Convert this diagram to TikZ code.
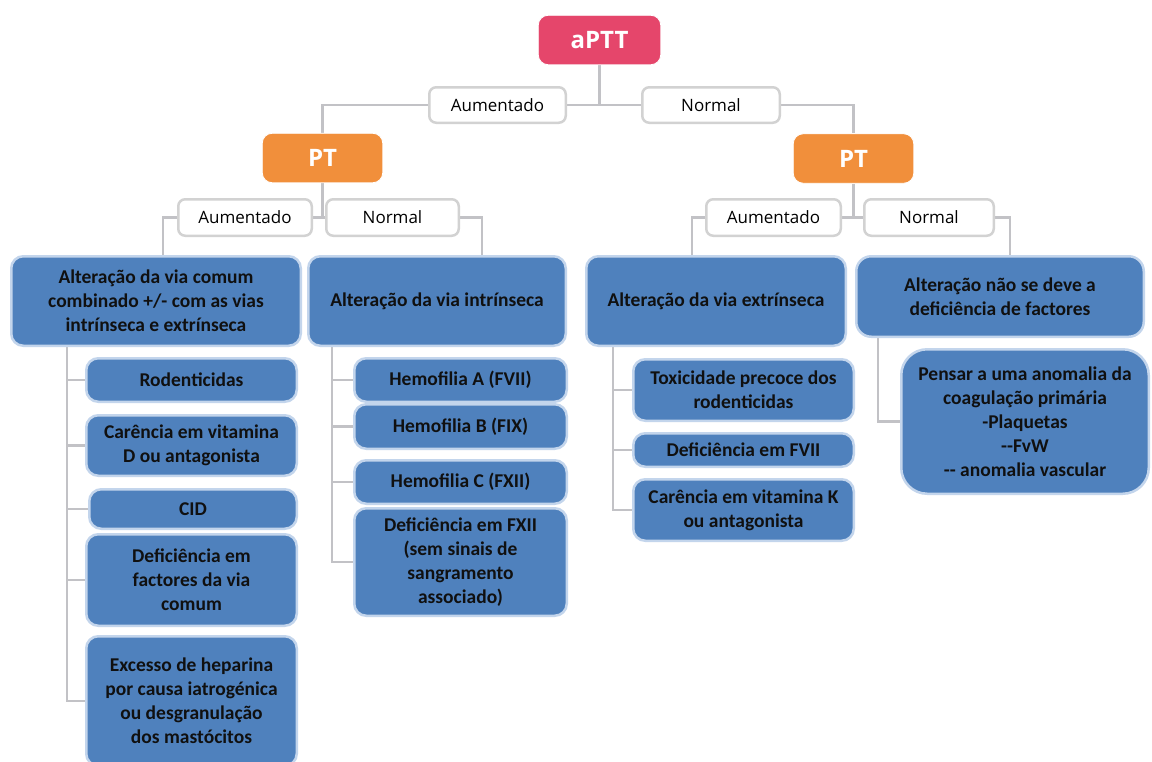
\documentclass[tikz,border=0pt]{standalone}
\usepackage{fontspec}
\newfontfamily\boxfont{Carlito}
\newfontfamily\labfont{Open Sans}
\definecolor{apttfill}{HTML}{E5466B}
\definecolor{ptfill}{HTML}{F18F3B}
\definecolor{bluefill}{HTML}{4F81BD}
\definecolor{blueedge}{HTML}{C3D5EC}
\definecolor{labedge}{HTML}{D2D2D2}
\definecolor{linkgrey}{HTML}{C2C2C6}
\definecolor{boxtext}{HTML}{101010}
\pgfdeclarelayer{bg}
\pgfsetlayers{bg,main}
\begin{document}
\begin{tikzpicture}[x=1pt,y=-1pt,
  sz/.style 2 args={minimum width=#1pt-2.5pt, minimum height=#2pt-2.5pt},
  titlebox/.style={draw=white, line width=0.8pt, rounded corners=10pt, inner sep=0pt,
    text=white, font=\labfont\bfseries\fontsize{24}{28}\selectfont},
  labbox/.style={draw=labedge, line width=2.5pt, fill=white, rounded corners=7pt, inner sep=0pt,
    text=black, font=\labfont\fontsize{17}{20}\selectfont},
  bluebox/.style={draw=blueedge, line width=2.5pt, fill=bluefill, rounded corners=12pt, inner sep=0pt,
    align=center, text=boxtext, font=\boxfont\bfseries\fontsize{19.5}{24}\selectfont},
  conn/.style={draw=linkgrey, line width=2.5pt}]
\useasboundingbox (0,0) rectangle (1152,761);
\clip (0,0) rectangle (1152,761);

% root and first split
\node[titlebox, fill=apttfill, sz={125}{52}] (aptt) at (599.5,40) {aPTT};
\node[labbox, sz={139}{38}] (lA1) at (497.5,105) {Aumentado};
\node[labbox, sz={140}{38}] (lN1) at (711,105) {Normal};
\node[titlebox, fill=ptfill, sz={123}{52}] (ptL) at (322.5,158) {PT};
\node[titlebox, fill=ptfill, sz={123}{52}] (ptR) at (853.5,158.5) {PT};

% second split
\node[labbox, sz={136}{39}] (lA2) at (245,217.5) {Aumentado};
\node[labbox, sz={135}{39}] (lN2) at (392.5,217.5) {Normal};
\node[labbox, sz={137}{39}] (lA3) at (773.5,217.5) {Aumentado};
\node[labbox, sz={132}{39}] (lN3) at (929,217.5) {Normal};

% interpretations
\node[bluebox, sz={292}{92}] (A1) at (156,301) {Alteração da via comum\\combinado +/- com as vias\\intrínseca e extrínseca};
\node[bluebox, sz={260}{92}] (A2) at (437,301) {Alteração da via intrínseca};
\node[bluebox, sz={262}{92}] (A3) at (716,301) {Alteração da via extrínseca};
\node[bluebox, sz={290}{83}, rounded corners=15pt] (A4) at (1000,296.5) {Alteração não se deve a\\deficiência de factores};

% causes: common pathway
\node[bluebox, sz={213}{46}] (r1) at (191.5,380) {Rodenticidas};
\node[bluebox, sz={213}{63}] (r2) at (191.5,445.5) {Carência em vitamina\\D ou antagonista};
\node[bluebox, sz={210}{42}] (r3) at (193,509) {CID};
\node[bluebox, sz={213}{94}] (r4) at (191.5,580) {Deficiência em\\factores da via\\comum};
\node[bluebox, sz={213}{132}] (r5) at (191.5,701) {Excesso de heparina\\por causa iatrogénica\\ou desgranulação\\dos mastócitos};

% causes: intrinsic pathway
\node[bluebox, sz={215}{46}] (h1) at (460.5,380) {Hemofilia A (FVII)};
\node[bluebox, sz={215}{47}] (h2) at (460.5,426.5) {Hemofilia B (FIX)};
\node[bluebox, sz={215}{46}] (h3) at (460.5,482) {Hemofilia C (FXII)};
\node[bluebox, sz={215}{110}] (h4) at (460.5,562) {Deficiência em FXII\\(sem sinais de\\sangramento\\associado)};

% causes: extrinsic pathway
\node[bluebox, sz={223}{64}] (e1) at (743.5,390) {Toxicidade precoce dos\\rodenticidas};
\node[bluebox, sz={223}{36}] (e2) at (743.5,450) {Deficiência em FVII};
\node[bluebox, sz={223}{64}] (e3) at (743.5,510) {Carência em vitamina K\\ou antagonista};

% primary haemostasis
\node[bluebox, sz={250}{147}, rounded corners=26pt] (p1) at (1025,421.5) {Pensar a uma anomalia da\\coagulação primária\\-Plaquetas\\-{}-FvW\\-{}- anomalia vascular};

\coordinate (k1) at ([xshift=57pt]A1.south west);
\coordinate (k2) at ([xshift=25pt]A2.south west);
\coordinate (k3) at ([xshift=28pt]A3.south west);
\coordinate (k4) at ([xshift=23pt]A4.south west);

\begin{pgfonlayer}{bg}
\fill[white] (0,0) rectangle (1152,761);
\draw[conn] (aptt.south) -- (aptt.south |- lA1.east);
\draw[conn] (lA1.east) -- (lN1.west);
\draw[conn] (lA1.west) -| (ptL.north);
\draw[conn] (lN1.east) -| (ptR.north);
\draw[conn] (ptL.south) -- (ptL.south |- lA2.east);
\draw[conn] (lA2.east) -- (lN2.west);
\draw[conn] (lA2.west) -| ([xshift=-14pt]lA2.west |- A1.north);
\draw[conn] (lN2.east) -| ([xshift=22pt]lN2.east |- A2.north);
\draw[conn] (ptR.south) -- (ptR.south |- lA3.east);
\draw[conn] (lA3.east) -- (lN3.west);
\draw[conn] (lA3.west) -| ([xshift=-13pt]lA3.west |- A3.north);
\draw[conn] (lN3.east) -| ([xshift=15pt]lN3.east |- A4.north);
\foreach \c in {r1,r2,r3,r4,r5} \draw[conn] (k1) |- (\c.west);
\foreach \c in {h1,h2,h3,h4} \draw[conn] (k2) |- (\c.west);
\foreach \c in {e1,e2,e3} \draw[conn] (k3) |- (\c.west);
\draw[conn] (k4) |- (p1.west);
\end{pgfonlayer}
\end{tikzpicture}
\end{document}
